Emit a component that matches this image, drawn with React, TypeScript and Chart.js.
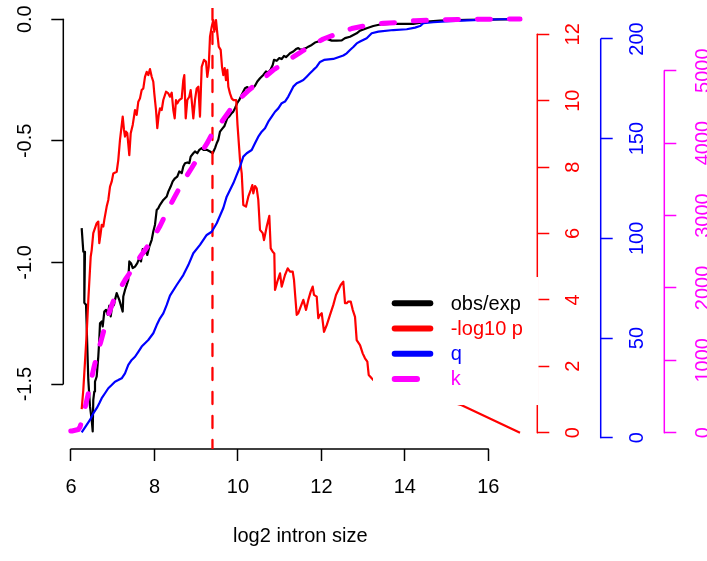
import { useEffect, useRef } from 'react';
import { Chart, registerables } from 'chart.js';

Chart.register(...registerables);

const FONT_FAMILY = '"Liberation Sans", Arial, Helvetica, sans-serif';

// ---------- data (x = log2 intron size) ----------
const OBS_EXP: [number, number][] = [
  [6.256,-0.859],[6.295,-0.956],[6.335,-0.956],[6.319,-1.166],[6.360,-1.174],[6.415,-1.483],[6.455,-1.592],
  [6.496,-1.647],[6.520,-1.695],[6.534,-1.565],[6.558,-1.531],[6.575,-1.490],[6.616,-1.469],[6.654,-1.387],
  [6.678,-1.318],[6.695,-1.250],[6.736,-1.243],[6.760,-1.263],[6.798,-1.202],[6.839,-1.195],[6.879,-1.215],
  [6.918,-1.178],[6.951,-1.222],[6.983,-1.184],[7.030,-1.174],[7.054,-1.154],[7.095,-1.126],[7.157,-1.154],
  [7.215,-1.188],[7.239,-1.202],[7.253,-1.140],[7.294,-1.113],[7.335,-1.092],[7.373,-1.072],[7.397,-0.996],
  [7.438,-1.003],[7.479,-1.023],[7.534,-1.017],[7.589,-1.003],[7.637,-0.982],[7.678,-0.996],[7.718,-0.945],
  [7.749,-0.965],[7.797,-0.948],[7.828,-0.969],[7.876,-0.935],[7.934,-0.907],[7.972,-0.873],[8.013,-0.845],
  [8.054,-0.784],[8.092,-0.777],[8.133,-0.763],[8.212,-0.743],[8.294,-0.729],[8.332,-0.709],[8.389,-0.688],
  [8.437,-0.667],[8.492,-0.654],[8.547,-0.647],[8.595,-0.626],[8.653,-0.633],[8.691,-0.606],[8.732,-0.592],
  [8.787,-0.589],[8.835,-0.592],[8.868,-0.565],[8.931,-0.551],[8.971,-0.544],[9.027,-0.551],[9.075,-0.537],
  [9.132,-0.530],[9.170,-0.537],[9.252,-0.537],[9.331,-0.544],[9.396,-0.551],[9.451,-0.530],[9.492,-0.510],
  [9.530,-0.496],[9.571,-0.462],[9.636,-0.448],[9.678,-0.439],[9.746,-0.407],[9.794,-0.400],[9.851,-0.386],
  [9.889,-0.380],[9.930,-0.366],[9.985,-0.344],[10.033,-0.332],[10.091,-0.311],[10.170,-0.284],[10.225,-0.279],
  [10.290,-0.291],[10.354,-0.284],[10.409,-0.274],[10.465,-0.256],[10.529,-0.243],[10.608,-0.229],[10.673,-0.215],
  [10.728,-0.219],[10.786,-0.206],[10.834,-0.188],[10.865,-0.167],[10.930,-0.171],[10.992,-0.160],[11.049,-0.164],
  [11.104,-0.151],[11.152,-0.156],[11.207,-0.147],[11.248,-0.140],[11.327,-0.133],[11.392,-0.123],[11.447,-0.119],
  [11.505,-0.126],[11.567,-0.123],[11.632,-0.119],[11.687,-0.113],[11.768,-0.106],[11.847,-0.096],[11.926,-0.092],
  [12.008,-0.082],[12.087,-0.078],[12.166,-0.083],[12.248,-0.088],[12.367,-0.088],[12.487,-0.087],[12.566,-0.078],
  [12.686,-0.072],[12.846,-0.058],[12.926,-0.047],[13.086,-0.037],[13.244,-0.028],[13.405,-0.022],[13.645,-0.019],
  [14.203,-0.019],[14.524,-0.010],[14.843,-0.006],[15.483,-0.003],[16.760,0.0],
];

const NEG_LOG10_P: [number, number][] = [
  [6.256,0.71],[6.295,1.29],[6.376,2.99],[6.415,4.00],[6.472,5.30],[6.496,5.50],[6.534,6.01],[6.616,6.31],
  [6.654,6.36],[6.678,5.71],[6.712,6.01],[6.736,6.26],[6.774,6.21],[6.798,6.41],[6.855,6.81],[6.894,7.01],
  [6.935,7.41],[6.975,7.56],[7.014,7.81],[7.095,7.86],[7.133,8.21],[7.174,8.82],[7.239,9.52],[7.270,9.12],
  [7.294,8.92],[7.318,9.07],[7.349,9.02],[7.397,8.36],[7.431,9.02],[7.479,9.27],[7.534,9.72],[7.574,9.57],
  [7.613,9.97],[7.653,10.07],[7.694,10.32],[7.733,10.37],[7.773,10.72],[7.814,10.87],[7.852,10.77],[7.893,10.95],
  [7.934,10.72],[7.972,10.57],[7.996,10.22],[8.037,9.72],[8.068,9.17],[8.102,9.57],[8.133,9.77],[8.174,9.72],
  [8.212,10.02],[8.277,10.27],[8.332,10.22],[8.372,10.12],[8.413,10.24],[8.452,9.72],[8.485,9.47],[8.516,10.02],
  [8.547,9.92],[8.595,10.02],[8.653,10.07],[8.691,10.62],[8.715,10.77],[8.749,9.47],[8.787,10.02],[8.835,10.12],
  [8.868,10.32],[8.892,10.02],[8.931,9.47],[8.971,10.02],[9.012,10.37],[9.051,10.42],[9.091,9.52],[9.115,10.42],
  [9.132,11.02],[9.187,11.23],[9.235,11.18],[9.266,10.72],[9.300,11.02],[9.331,11.93],[9.372,12.23],[9.410,12.43],
  [9.434,12.08],[9.475,12.43],[9.506,12.03],[9.540,11.63],[9.587,11.53],[9.619,11.02],[9.650,10.77],[9.683,10.98],
  [9.714,10.62],[9.746,10.93],[9.770,10.42],[9.810,10.22],[9.851,10.07],[9.889,10.02],[9.959,10.02],[9.990,9.27],
  [10.033,8.52],[10.050,8.21],[10.091,7.81],[10.129,6.86],[10.194,6.81],[10.249,7.11],[10.306,7.31],[10.345,7.46],
  [10.369,7.21],[10.409,7.43],[10.450,7.36],[10.488,7.01],[10.529,6.11],[10.594,6.01],[10.625,5.80],[10.690,6.21],
  [10.752,6.53],[10.786,5.55],[10.834,5.45],[10.872,5.40],[10.889,4.30],[10.944,4.55],[11.009,4.80],[11.049,4.40],
  [11.128,4.75],[11.193,4.95],[11.248,4.85],[11.313,4.85],[11.344,4.60],[11.368,4.20],[11.409,3.55],[11.447,3.60],
  [11.505,3.80],[11.567,4.00],[11.632,3.70],[11.687,4.00],[11.744,4.25],[11.792,4.40],[11.823,4.15],[11.888,4.10],
  [11.926,3.45],[11.967,3.55],[12.008,3.60],[12.063,3.04],[12.128,3.24],[12.207,3.55],[12.286,3.85],[12.350,4.15],
  [12.406,4.30],[12.463,4.45],[12.525,4.55],[12.566,3.90],[12.607,3.90],[12.645,3.95],[12.703,3.95],[12.751,3.70],
  [12.806,3.49],[12.846,2.79],[12.926,2.64],[12.990,2.39],[13.045,2.24],[13.101,2.14],[13.134,1.74],[13.206,1.64],
  [13.244,1.59],[15.363,0.83],[16.760,0.0],
];

const Q_VALUES: [number, number][] = [
  [6.256,2.7],[6.376,6.4],[6.455,8.9],[6.534,12.2],[6.616,14.8],[6.678,17.3],[6.736,19.8],[6.815,22.3],
  [6.894,24.8],[6.975,26.4],[7.054,28.1],[7.133,28.9],[7.215,29.8],[7.294,32.3],[7.373,36.5],[7.455,39.0],
  [7.534,40.6],[7.613,43.1],[7.694,45.7],[7.773,47.4],[7.852,49.0],[7.972,52.4],[8.054,56.5],[8.133,59.9],
  [8.212,62.4],[8.294,66.6],[8.372,71.3],[8.533,76.6],[8.691,81.6],[8.811,86.6],[8.931,92.5],[9.091,96.7],
  [9.252,101.7],[9.372,103.3],[9.492,107.6],[9.650,115.2],[9.731,120.9],[9.810,124.3],[9.889,127.6],[9.971,131.8],
  [10.050,135.9],[10.129,141.0],[10.211,142.7],[10.330,144.3],[10.409,147.7],[10.488,151.0],[10.570,153.5],
  [10.649,155.2],[10.728,158.5],[10.810,161.0],[10.889,163.5],[10.968,165.2],[11.049,167.8],[11.128,168.6],
  [11.207,171.1],[11.327,176.1],[11.409,177.8],[11.488,178.6],[11.567,179.4],[11.648,181.1],[11.727,182.8],
  [11.807,184.5],[11.888,186.1],[11.967,188.5],[12.063,189.5],[12.286,190.0],[12.525,191.7],[12.607,192.8],
  [12.686,194.5],[12.765,196.0],[12.846,197.8],[12.926,198.7],[13.086,200.4],[13.206,202.9],[13.364,203.7],
  [13.723,204.5],[14.045,204.9],[14.244,205.7],[14.364,206.5],[14.443,207.9],[14.682,208.4],[15.083,209.0],
  [15.641,209.5],[16.281,209.9],[16.760,210.0],
];

const K_VALUES: [number, number][] = [
  [5.617,10],[5.808,17],[6.024,23],[6.175,44],[6.216,79],[6.264,175],[6.335,341],[6.407,521],[6.479,714],
  [6.551,907],[6.623,1073],[6.712,1253],[6.791,1418],[6.887,1612],[7.006,1805],[7.126,1943],[7.294,2109],
  [7.455,2247],[7.653,2427],[7.773,2523],[7.972,2689],[8.133,2855],[8.294,3048],[8.468,3241],[8.691,3476],
  [8.892,3656],[9.051,3808],[9.252,3988],[9.410,4160],[9.612,4296],[9.810,4457],[10.009,4595],[10.242,4720],
  [10.488,4844],[10.649,4913],[10.849,5010],[11.088,5102],[11.488,5251],[11.768,5348],[12.046,5438],
  [12.406,5517],[12.727,5583],[13.125,5631],[13.484,5655],[13.885,5668],[14.244,5691],[14.644,5700],
  [15.401,5710],[16.201,5711],[16.760,5714],
];

const PEAK_X = 9.39;

// ---------- axes ----------
const X_TITLE = 'log2 intron size';
const X_TICKS = [6, 8, 10, 12, 14, 16];
const X_RANGE = [5.8155, 17.174];
const OBS_TICKS = [-1.5, -1.0, -0.5, 0.0];
const OBS_RANGE = [-1.767, 0.046];
const P_TICKS = [0, 2, 4, 6, 8, 10, 12];
const P_RANGE = [-0.491, 12.792];
const Q_TICKS = [0, 50, 100, 150, 200];
const Q_RANGE = [-5.67, 215.55];
const K_TICKS = [0, 1000, 2000, 3000, 4000, 5000];
const K_RANGE = [-225, 5866];

const LEGEND_LABELS = ['obs/exp', '-log10 p', 'q', 'k'];
const LEGEND_COLORS = ['#000000', '#ff0000', '#0000ff', '#ff00ff'];
const LEGEND_ANCHOR = [13.237, -1.06]; // x (log2), y (obs/exp axis)

const font = { family: FONT_FAMILY, size: 20 };

function yAxis(opts: {
  position: 'left' | 'right'; color: string; range: number[]; ticks: number[];
  fmt: (v: number) => string; pad: number; width: number; weight: number;
}) {
  return {
    type: 'linear',
    position: opts.position,
    weight: opts.weight,
    min: opts.range[0],
    max: opts.range[1],
    afterBuildTicks: (s: any) => { s.ticks = opts.ticks.map((v) => ({ value: v })); },
    afterFit: (s: any) => {
      s.width = opts.width;
      s.paddingTop = 0; s.paddingBottom = 0; s.paddingLeft = 0; s.paddingRight = 0;
    },
    border: { display: false },
    grid: {
      display: true, drawOnChartArea: false, drawTicks: true, tickLength: 12,
      tickWidth: 1.5, tickColor: opts.color,
    },
    ticks: {
      autoSkip: false, minRotation: 90, maxRotation: 90, crossAlign: 'center',
      padding: opts.pad, color: opts.color, font,
      callback: (v: any) => opts.fmt(Number(v)),
    },
  };
}

const rAxisLines = {
  id: 'rAxisLines',
  beforeDatasetsDraw(chart: any) {
    const ctx = chart.ctx;
    const specs: [string, string][] = [['x', '#000'], ['yObs', '#000'], ['yP', '#ff0000'], ['yQ', '#0000ff'], ['yK', '#ff00ff']];
    for (const [id, color] of specs) {
      const s = chart.scales[id];
      const t = s.ticks;
      const a = s.getPixelForValue(t[0].value);
      const b = s.getPixelForValue(t[t.length - 1].value);
      ctx.save();
      ctx.strokeStyle = color;
      ctx.lineWidth = 1.5;
      ctx.lineCap = 'round';
      ctx.beginPath();
      if (s.isHorizontal()) { ctx.moveTo(a, s.top); ctx.lineTo(b, s.top); }
      else if (s.position === 'left') { ctx.moveTo(s.right, a); ctx.lineTo(s.right, b); }
      else { ctx.moveTo(s.left, a); ctx.lineTo(s.left, b); }
      ctx.stroke();
      ctx.restore();
    }
  },
};

const rLegend = {
  id: 'rLegend',
  afterDraw(chart: any) {
    const ctx = chart.ctx;
    const x0 = chart.scales.x.getPixelForValue(LEGEND_ANCHOR[0]);
    const y0 = chart.scales.yObs.getPixelForValue(LEGEND_ANCHOR[1]);
    ctx.save();
    ctx.fillStyle = '#ffffff';
    ctx.fillRect(x0, y0, 165.5, 128);
    ctx.font = `20px ${FONT_FAMILY}`;
    ctx.textBaseline = 'middle';
    ctx.textAlign = 'left';
    LEGEND_LABELS.forEach((lab, i) => {
      const y = y0 + 26.3 + i * 25.2;
      ctx.strokeStyle = LEGEND_COLORS[i];
      ctx.lineWidth = 6;
      ctx.lineCap = 'round';
      ctx.beginPath();
      ctx.moveTo(x0 + 21.7, y);
      ctx.lineTo(x0 + (i === 3 ? 44 : 57.3), y);
      ctx.stroke();
      ctx.fillStyle = LEGEND_COLORS[i];
      ctx.fillText(lab, x0 + 77.7, y + 1);
    });
    ctx.restore();
  },
};

const pts = (arr: [number, number][]) => arr.map(([x, y]) => ({ x, y }));

export default function App() {
  const ref = useRef<HTMLCanvasElement>(null);
  useEffect(() => {
    const chart = new Chart(ref.current as HTMLCanvasElement, {
      type: 'line',
      data: {
        datasets: [
          {
            label: LEGEND_LABELS[3], data: pts(K_VALUES), yAxisID: 'yK', xAxisID: 'x',
            borderColor: '#ff00ff', borderWidth: 5, borderDash: [13, 19], borderDashOffset: 24.2,
            borderCapStyle: 'round', borderJoinStyle: 'round', pointRadius: 0, clip: 0,
          },
          {
            label: LEGEND_LABELS[2], data: pts(Q_VALUES), yAxisID: 'yQ', xAxisID: 'x',
            borderColor: '#0000ff', borderWidth: 2.2, pointRadius: 0, borderJoinStyle: 'round',
          },
          {
            label: 'peak', data: [{ x: PEAK_X, y: P_RANGE[1] }, { x: PEAK_X, y: P_RANGE[0] }],
            yAxisID: 'yP', xAxisID: 'x', borderColor: '#ff0000', borderWidth: 2.3,
            borderDash: [12, 12], borderCapStyle: 'round', pointRadius: 0, clip: 0,
          },
          {
            label: LEGEND_LABELS[1], data: pts(NEG_LOG10_P), yAxisID: 'yP', xAxisID: 'x',
            borderColor: '#ff0000', borderWidth: 2.2, pointRadius: 0, borderJoinStyle: 'round',
          },
          {
            label: LEGEND_LABELS[0], data: pts(OBS_EXP), yAxisID: 'yObs', xAxisID: 'x',
            borderColor: '#000000', borderWidth: 2.2, pointRadius: 0, borderJoinStyle: 'round',
          },
        ] as any,
      },
      options: {
        animation: false,
        responsive: false,
        devicePixelRatio: 1,
        layout: { padding: { top: 8, left: 0, right: 0, bottom: 0 } },
        elements: { line: { tension: 0 } },
        plugins: { legend: { display: false }, tooltip: { enabled: false }, title: { display: false } },
        scales: {
          x: {
            type: 'linear', position: 'bottom', min: X_RANGE[0], max: X_RANGE[1],
            afterBuildTicks: (s: any) => { s.ticks = X_TICKS.map((v) => ({ value: v })); },
            afterFit: (s: any) => {
              s.height = 112;
              s.paddingLeft = 0; s.paddingRight = 0; s.paddingTop = 0; s.paddingBottom = 0;
            },
            border: { display: false },
            grid: { display: true, drawOnChartArea: false, drawTicks: true, tickLength: 12, tickWidth: 1.5, tickColor: '#000' },
            ticks: { autoSkip: false, minRotation: 0, maxRotation: 0, padding: 14.7, color: '#000', font, callback: (v: any) => String(v) },
            title: { display: true, text: X_TITLE, color: '#000', font, padding: { top: 0, bottom: 13 } },
          },
          yObs: yAxis({ position: 'left', color: '#000', range: OBS_RANGE, ticks: OBS_TICKS, fmt: (v) => v.toFixed(1), pad: 8.6, width: 63.3, weight: 1 }),
          yP: yAxis({ position: 'right', color: '#ff0000', range: P_RANGE, ticks: P_TICKS, fmt: (v) => String(v), pad: 13.3, width: 63.4, weight: 1 }),
          yQ: yAxis({ position: 'right', color: '#0000ff', range: Q_RANGE, ticks: Q_TICKS, fmt: (v) => String(v), pad: 8.4, width: 63.6, weight: 2 }),
          yK: yAxis({ position: 'right', color: '#ff00ff', range: K_RANGE, ticks: K_TICKS, fmt: (v) => String(v), pad: 4.5, width: 42.7, weight: 3 }),
        } as any,
      },
      plugins: [rAxisLines, rLegend],
    } as any);
    return () => chart.destroy();
  }, []);
  return (
    <div style={{ position: 'absolute', left: 0, top: 0, width: 707, height: 561, overflow: 'hidden', background: '#fff' }}>
      <canvas ref={ref} width={707} height={561} style={{ display: 'block' }} />
    </div>
  );
}
